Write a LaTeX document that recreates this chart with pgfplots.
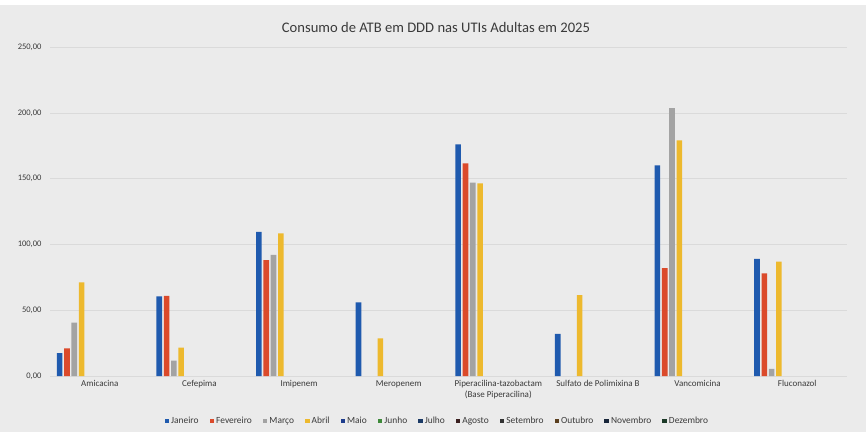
\documentclass[border=0pt]{standalone}
\usepackage{pgfplots}
\pgfplotsset{compat=1.18}
\usepackage{fontspec}
\setmainfont{Carlito}
\definecolor{bg}{HTML}{EBEBEB}
\definecolor{gridc}{HTML}{DADADA}
\definecolor{txt}{HTML}{3A3A3A}
\definecolor{cjan}{HTML}{1F5AAE}
\definecolor{cfev}{HTML}{DB4A2B}
\definecolor{cmar}{HTML}{A3A3A3}
\definecolor{cabr}{HTML}{EDB92E}
\definecolor{cmai}{HTML}{1D3C8C}
\definecolor{cjun}{HTML}{3E8A3A}
\definecolor{cjul}{HTML}{1B3A66}
\definecolor{cago}{HTML}{3A1F1F}
\definecolor{cset}{HTML}{333333}
\definecolor{cout}{HTML}{5A3F1E}
\definecolor{cnov}{HTML}{18263A}
\definecolor{cdez}{HTML}{1C3A28}
\begin{document}
\begin{tikzpicture}
\path[use as bounding box] (0,0) rectangle (866pt,432pt);
\fill[bg] (0,0) rectangle (866pt,432pt);
\fill[white] (0,427pt) rectangle (866pt,432pt);
\node[font=\fontsize{14.6}{16}\selectfont, text=txt] at (436pt,405pt) {Consumo de ATB em DDD nas UTIs Adultas em 2025};
\begin{axis}[
  at={(50pt,56pt)}, anchor=south west,
  scale only axis, width=797pt, height=329pt,
  xmin=-0.5, xmax=7.5, ymin=0, ymax=250,
  ybar, bar width=5.6pt,
  axis line style={draw=none},
  major tick length=0pt,
  xmajorgrids=false, ymajorgrids=true,
  y grid style={draw=gridc, line width=0.6pt},
  xtick style={draw=none}, ytick style={draw=none},
  ytick={0,50,100,150,200,250},
  xtick={0,...,7},
  xticklabels={Amicacina,Cefepima,Imipenem,Meropenem,{Piperacilina-tazobactam\\(Base Piperacilina)},Sulfato de Polimixina B,Vancomicina,Fluconazol},
  xticklabel style={font=\fontsize{9}{11}\selectfont, text=txt, align=center, yshift=-1pt},
  yticklabel style={font=\fontsize{8.5}{10}\selectfont, text=txt, xshift=-5pt},
  /pgf/number format/.cd, fixed, fixed zerofill, precision=2, use comma, 1000 sep={}, assume math mode=true,
  /pgfplots/.cd,
  legend columns=12,
  legend style={at={(0.486,-0.137)}, anchor=center, draw=none, fill=none,
    font=\fontsize{9.4}{11}\selectfont, text=txt,
    /tikz/every even column/.append style={column sep=9pt}},
  legend image code/.code={\fill[#1] (0pt,-2.3pt) rectangle (4.6pt,2.3pt);},
]
\addplot[fill=cjan, draw=none, bar shift=-40.15pt] coordinates {(0,17.3) (1,60.5) (2,109.5) (3,56) (4,176) (5,32) (6,160) (7,89)};
\addplot[fill=cfev, draw=none, bar shift=-32.85pt] coordinates {(0,21) (1,60.8) (2,88) (4,161.6) (6,82) (7,78)};
\addplot[fill=cmar, draw=none, bar shift=-25.55pt] coordinates {(0,40.5) (1,11.6) (2,92) (4,147) (6,203.5) (7,5.5)};
\addplot[fill=cabr, draw=none, bar shift=-18.25pt] coordinates {(0,71.2) (1,21.5) (2,108.4) (3,28.6) (4,146.4) (5,61.5) (6,179) (7,87)};
\addlegendimage{fill=cmai, draw=none}
\addlegendimage{fill=cjun, draw=none}
\addlegendimage{fill=cjul, draw=none}
\addlegendimage{fill=cago, draw=none}
\addlegendimage{fill=cset, draw=none}
\addlegendimage{fill=cout, draw=none}
\addlegendimage{fill=cnov, draw=none}
\addlegendimage{fill=cdez, draw=none}
\legend{Janeiro,Fevereiro,Março,Abril,Maio,Junho,Julho,Agosto,Setembro,Outubro,Novembro,Dezembro}
\end{axis}
\end{tikzpicture}
\end{document}
